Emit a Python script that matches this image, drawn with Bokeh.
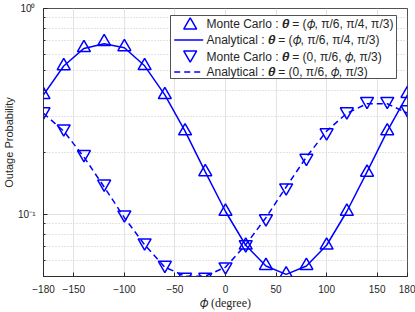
from bokeh.plotting import figure
from bokeh.models import (FixedTicker, Range1d, BoxAnnotation, PolyAnnotation,
                          Arrow, Label)
from bokeh.embed import file_html
from bokeh.resources import INLINE

# ---------------- data ----------------
phi = [-180, -160, -140, -120, -100, -80, -60, -40, -20, 0,
       20, 40, 60, 80, 100, 120, 140, 160, 180]

# theta = (phi, pi/6, pi/4, pi/3)
mc_1 = [0.381, 0.526, 0.644, 0.689, 0.651, 0.527, 0.381, 0.254, 0.161, 0.1034,
        0.0709, 0.0564, 0.0514, 0.0564, 0.0709, 0.1034, 0.160, 0.254, 0.386]
an_1 = [0.381, 0.526, 0.640, 0.675, 0.645, 0.527, 0.381, 0.254, 0.161, 0.1034,
        0.0709, 0.0562, 0.0512, 0.0562, 0.0709, 0.1034, 0.161, 0.254, 0.381]

# theta = (0, pi/6, phi, pi/3)
mc_2 = [0.316, 0.261, 0.196, 0.141, 0.0998, 0.0730, 0.0568, 0.0497, 0.0497, 0.0558,
        0.0715, 0.0955, 0.135, 0.188, 0.250, 0.316, 0.355, 0.355, 0.323]
an_2 = [0.310, 0.254, 0.190, 0.136, 0.0965, 0.0713, 0.0555, 0.0502, 0.0502, 0.0555,
        0.0713, 0.0965, 0.136, 0.190, 0.254, 0.310, 0.345, 0.345, 0.310]

x_ticks = [-180, -150, -100, -50, 0, 50, 100, 150, 180]
y_ticks = [0.1, 1]
y_tick_labels = {0.1: "10\u207b\u00b9", 1: "10\u2070"}
y_minor = [0.05, 0.06, 0.07, 0.08, 0.09, 0.2, 0.3, 0.4, 0.5, 0.6, 0.7, 0.8, 0.9]

TH = "\U0001D73D"   # bold italic theta
PH = "\U0001D719"   # italic phi
labels = ["Monte Carlo : " + TH + " = (" + PH + ", \u03c0/6, \u03c0/4, \u03c0/3)",
          "Analytical : " + TH + " = (" + PH + ", \u03c0/6, \u03c0/4, \u03c0/3)",
          "Monte Carlo : " + TH + " = (0, \u03c0/6, " + PH + ", \u03c0/3)",
          "Analytical : " + TH + " = (0, \u03c0/6, " + PH + ", \u03c0/3)"]
x_label = PH + " (degree)"
y_label = "Outage Probability"

BLUE = "#0000ff"
DARK = "#262626"
FONT = "Liberation Sans"

p = figure(width=415, height=312, y_axis_type="log",
           x_range=Range1d(-180, 180), y_range=Range1d(0.05, 1),
           output_backend="svg", toolbar_location=None,
           min_border_left=41, min_border_right=8, min_border_top=8, min_border_bottom=34)
p.background_fill_color = "white"
p.outline_line_color = DARK
p.outline_line_width = 0.8

xt = FixedTicker(ticks=x_ticks, minor_ticks=[])
yt = FixedTicker(ticks=y_ticks, minor_ticks=y_minor)

# grids
p.xgrid.ticker = xt
p.ygrid.ticker = yt
p.xgrid.grid_line_color = "#e3e3e3"
p.ygrid.grid_line_color = "#e3e3e3"
p.ygrid.minor_grid_line_color = "#c8c8c8"
p.ygrid.minor_grid_line_dash = "1 2"

def style_axis(ax):
    ax.axis_line_color = DARK
    ax.axis_line_width = 0.8
    ax.major_tick_line_color = DARK
    ax.minor_tick_line_color = DARK
    ax.major_tick_in = 4
    ax.major_tick_out = 0
    ax.minor_tick_in = 2
    ax.minor_tick_out = 0
    ax.major_label_text_color = DARK
    ax.major_label_text_font = FONT
    ax.major_label_text_font_size = "10px"

ya = p.yaxis[0]
ya.ticker = yt
style_axis(ya)
ya.major_label_overrides = y_tick_labels
ya.major_label_standoff = 8
ya.axis_label = y_label
ya.axis_label_text_font = FONT
ya.axis_label_text_font_size = "11px"
ya.axis_label_text_font_style = "normal"
ya.axis_label_text_color = DARK
ya.axis_label_standoff = 0

xa = p.xaxis[0]
xa.ticker = xt
style_axis(xa)
xa.major_label_standoff = 8
xa.axis_label = x_label
xa.axis_label_text_font = "Liberation Serif"
xa.axis_label_text_font_size = "12px"
xa.axis_label_text_font_style = "normal"
xa.axis_label_text_color = DARK
xa.axis_label_standoff = 0

# data renderers
p.line(phi, an_1, line_color=BLUE, line_width=1.5)
p.line(phi, an_2, line_color=BLUE, line_width=1.5, line_dash="6 4")
p.scatter(phi, mc_1, marker="triangle", size=13, fill_color=None,
          line_color=BLUE, line_width=1.5)
p.scatter(phi, mc_2, marker="inverted_triangle", size=13, fill_color=None,
          line_color=BLUE, line_width=1.5)

# ---------------- legend (screen units, relative to frame bottom-left) ----------------
LEG_L, LEG_R, LEG_B, LEG_T = 127, 353, 198, 261
ROW_Y = [253, 236.5, 220, 204.5]
MK_X = 146.7
LN_X0, LN_X1 = 130.7, 159.7
TX_X = 163
HW, HH = 6.5, 5.6

p.add_layout(BoxAnnotation(left=LEG_L, right=LEG_R, bottom=LEG_B, top=LEG_T,
                           left_units="screen", right_units="screen",
                           bottom_units="screen", top_units="screen",
                           fill_color="white", fill_alpha=1,
                           line_color=DARK, line_width=0.8, line_alpha=1))

for i, y in enumerate(ROW_Y):
    if i % 2 == 0:
        s = 1 if i == 0 else -1
        p.add_layout(PolyAnnotation(xs=[MK_X - HW, MK_X + HW, MK_X],
                                    ys=[y - s * HH, y - s * HH, y + s * HH],
                                    xs_units="screen", ys_units="screen",
                                    fill_color=None, fill_alpha=0,
                                    line_color=BLUE, line_width=1.5, line_alpha=1))
    else:
        p.add_layout(Arrow(start=None, end=None, x_start=LN_X0, y_start=y,
                           x_end=LN_X1, y_end=y, start_units="screen", end_units="screen",
                           line_color=BLUE, line_width=1.5,
                           line_dash="solid" if i == 1 else "6 4"))
    p.add_layout(Label(x=TX_X, y=y, x_units="screen", y_units="screen",
                       text=labels[i], text_font=FONT, text_font_size="12px",
                       text_color=DARK, text_baseline="middle", text_align="left"))

open("out.html", "w").write(file_html(p, INLINE))
